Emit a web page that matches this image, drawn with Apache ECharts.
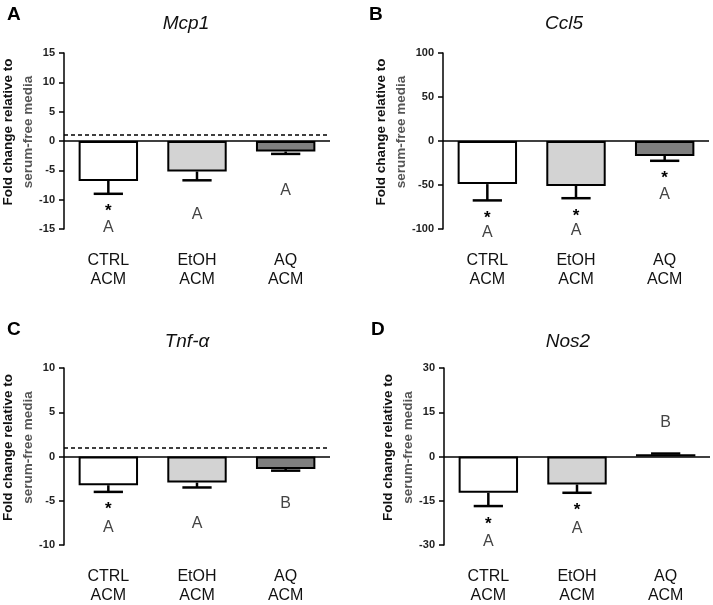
<html lang="en">
<head>
    <meta charset="UTF-8">
    <title>ACM fold change</title>
    <script src="https://cdn.jsdelivr.net/npm/echarts@6/dist/echarts.min.js"></script>
    <style type="text/css">
        html, body {
            margin: 0;
            padding: 0;
            background: #fff;
        }
        #main {
            width: 713px;
            height: 605px;
        }
    </style>
</head>
<body>
<div id="main"></div>
<script>
    // data
    var categories = ['CTRL\nACM', 'EtOH\nACM', 'AQ\nACM'];
    var barColors = ['#ffffff', '#d3d3d3', '#7f7f7f'];

    var mcp1Mean = [-6.8, -5.2, -1.8];
    var mcp1Err = [-9.0, -6.7, -2.2];
    var mcp1Stars = [-11.4, null, null];
    var mcp1Letters = ['A', 'A', 'A'];
    var mcp1LetterY = [-14.8, -12.5, -8.5];

    var ccl5Mean = [-49, -51, -17];
    var ccl5Err = [-67.5, -65, -22.5];
    var ccl5Stars = [-84, -82, -39];
    var ccl5Letters = ['A', 'A', 'A'];
    var ccl5LetterY = [-104.5, -101.6, -61];

    var tnfMean = [-3.25, -2.95, -1.4];
    var tnfErr = [-4.0, -3.5, -1.6];
    var tnfStars = [-5.6, null, null];
    var tnfLetters = ['A', 'A', 'B'];
    var tnfLetterY = [-8.0, -7.6, -5.3];

    var nos2Mean = [-12.3, -9.5, 0.8];
    var nos2Err = [-16.8, -12.3, 1.0];
    var nos2Stars = [-21.9, -17.3, null];
    var nos2Letters = ['A', 'A', 'B'];
    var nos2LetterY = [-28.8, -24.3, 11.6];

    var FONT = '"Liberation Sans", Arial, sans-serif';

    var panels = [
        {tag: 'A', title: 'Mcp1', tagX: 2, tagY: 0, titleX: 181, titleY: 9,
            grid: {left: 64, top: 53, width: 266, height: 176},
            min: -15, max: 15, interval: 5, dashed: true,
            mean: mcp1Mean, err: mcp1Err, stars: mcp1Stars, letters: mcp1Letters, letterY: mcp1LetterY},
        {tag: 'B', title: 'Ccl5', tagX: 364, tagY: 0, titleX: 559, titleY: 9,
            grid: {left: 443, top: 53, width: 266, height: 176},
            min: -100, max: 100, interval: 50, dashed: false,
            mean: ccl5Mean, err: ccl5Err, stars: ccl5Stars, letters: ccl5Letters, letterY: ccl5LetterY},
        {tag: 'C', title: 'Tnf-α', tagX: 2, tagY: 315, titleX: 182, titleY: 327,
            grid: {left: 64, top: 368, width: 266, height: 178},
            min: -10, max: 10, interval: 5, dashed: true,
            mean: tnfMean, err: tnfErr, stars: tnfStars, letters: tnfLetters, letterY: tnfLetterY},
        {tag: 'D', title: 'Nos2', tagX: 366, tagY: 315, titleX: 563, titleY: 327,
            grid: {left: 444, top: 368, width: 266, height: 178},
            min: -30, max: 30, interval: 15, dashed: false,
            mean: nos2Mean, err: nos2Err, stars: nos2Stars, letters: nos2Letters, letterY: nos2LetterY}
    ];

    var myChart = echarts.init(document.getElementById('main'));

    var titles = [], grids = [], xAxes = [], yAxes = [], series = [];

    panels.forEach(function (p, i) {
        titles.push({
            text: p.tag, left: p.tagX, top: p.tagY,
            textStyle: {fontFamily: FONT, fontSize: 19, fontWeight: 'bold', color: '#000'}
        });
        titles.push({
            text: p.title, left: p.titleX, top: p.titleY, textAlign: 'center',
            textStyle: {fontFamily: FONT, fontSize: 19, fontStyle: 'italic', fontWeight: 'normal', color: '#111'}
        });
        grids.push(p.grid);
        xAxes.push({
            type: 'category', gridIndex: i, data: categories,
            axisLine: {show: false}, axisTick: {show: false},
            axisLabel: {margin: 22, fontFamily: FONT, fontSize: 16, lineHeight: 19, color: '#111'}
        });
        yAxes.push({
            type: 'value', gridIndex: i, min: p.min, max: p.max, interval: p.interval,
            splitLine: {show: false},
            axisLine: {show: true, onZero: false, lineStyle: {color: '#000', width: 1.5}},
            axisTick: {show: true, length: 5, lineStyle: {color: '#000', width: 1.5}},
            axisLabel: {margin: 9, fontFamily: FONT, fontSize: 11, fontWeight: 'bold', color: '#222'},
            name: '{a|Fold change relative to}\n{b|serum-free media}',
            nameLocation: 'middle', nameGap: 26, nameRotate: 90,
            nameTextStyle: {
                padding: [0, 0, 0, 18],
                rich: {
                    a: {fontFamily: FONT, fontSize: 13.5, fontWeight: 'bold', color: '#111', lineHeight: 20},
                    b: {fontFamily: FONT, fontSize: 13.5, fontWeight: 'bold', color: '#555', lineHeight: 20}
                }
            }
        });

        var lines = [{yAxis: 0, lineStyle: {type: 'solid', width: 1.5, color: '#000'}}];
        if (p.dashed) {
            lines.push({yAxis: 1, lineStyle: {type: [4, 3], width: 1.5, color: '#000'}});
        }

        series.push({
            type: 'bar', xAxisIndex: i, yAxisIndex: i,
            barCategoryGap: '33%',
            data: p.mean.map(function (v, j) {
                return {value: v, itemStyle: {color: barColors[j]}};
            }),
            itemStyle: {borderColor: '#000', borderWidth: 2},
            markLine: {
                silent: true, symbol: 'none', label: {show: false},
                data: lines
            },
            animation: false
        });

        // error bars, only the half away from zero
        series.push({
            type: 'custom', xAxisIndex: i, yAxisIndex: i,
            data: p.mean.map(function (v, j) { return [j, v, p.err[j]]; }),
            encode: {x: 0, y: [1, 2]},
            renderItem: function (params, api) {
                var a = api.coord([api.value(0), api.value(1)]);
                var b = api.coord([api.value(0), api.value(2)]);
                var half = api.size([1, 0])[0] * 0.165;
                var st = {stroke: '#000', lineWidth: 2.5};
                return {
                    type: 'group',
                    children: [
                        {type: 'line', shape: {x1: a[0], y1: a[1], x2: b[0], y2: b[1]}, style: st},
                        {type: 'line', shape: {x1: b[0] - half, y1: b[1], x2: b[0] + half, y2: b[1]}, style: st}
                    ]
                };
            },
            z: 3, animation: false
        });

        // significance stars
        series.push({
            type: 'custom', xAxisIndex: i, yAxisIndex: i,
            data: p.stars.map(function (s, j) { return [j, s]; }).filter(function (d) { return d[1] !== null; }),
            encode: {x: 0, y: 1},
            renderItem: function (params, api) {
                var c = api.coord([api.value(0), api.value(1)]);
                return {
                    type: 'text', x: c[0], y: c[1] + 3,
                    style: {text: '*', fill: '#000', fontFamily: FONT, fontSize: 17, fontWeight: 'bold',
                        align: 'center', verticalAlign: 'middle'}
                };
            },
            z: 4, animation: false
        });

        // group letters
        series.push({
            type: 'custom', xAxisIndex: i, yAxisIndex: i,
            data: p.letterY.map(function (y, j) { return [j, y]; }),
            encode: {x: 0, y: 1},
            renderItem: function (params, api) {
                var c = api.coord([api.value(0), api.value(1)]);
                return {
                    type: 'text', x: c[0], y: c[1],
                    style: {text: p.letters[params.dataIndex], fill: '#444', fontFamily: FONT, fontSize: 16,
                        align: 'center', verticalAlign: 'middle'}
                };
            },
            z: 4, animation: false
        });
    });

    var option = {
        backgroundColor: '#fff',
        animation: false,
        textStyle: {fontFamily: FONT},
        title: titles,
        grid: grids,
        xAxis: xAxes,
        yAxis: yAxes,
        series: series
    };
    myChart.setOption(option);
</script>
</body>
</html>
